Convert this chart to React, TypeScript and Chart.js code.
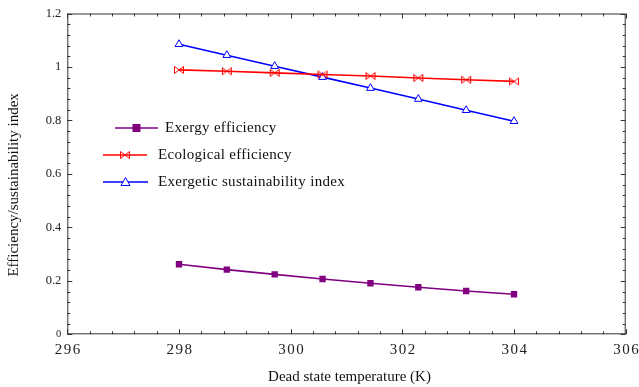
import React, { useEffect, useRef } from "react";
import { Chart, registerables } from "chart.js";

Chart.register(...registerables);

// Dead state temperature (K)
const temperatures = [298, 298.857, 299.714, 300.571, 301.429, 302.286, 303.143, 304];

// Series
const exergyEfficiency = [0.262, 0.242, 0.224, 0.207, 0.191, 0.176, 0.162, 0.150];
const ecologicalEfficiency = [0.989, 0.984, 0.978, 0.972, 0.966, 0.959, 0.952, 0.946];
const sustainabilityIndex = [1.085, 1.044, 1.003, 0.962, 0.921, 0.880, 0.838, 0.797];

// Axis ticks
const xMajorTicks = [296, 298, 300, 302, 304, 306];
const yMajorTicks = [0, 0.2, 0.4, 0.6, 0.8, 1, 1.2];
const xMinorStep = 0.4;
const yMinorStep = 0.04;

const xTitle = "Dead state temperature (K)";
const yTitle = "Efficiency/sustainability index";

const PURPLE = "#800080";
const RED = "#ff0000";
const BLUE = "#0000ff";
const SERIF = "'Liberation Serif', 'DejaVu Serif', serif";
const FRAME = "#333333";
const TEXT = "#111111";

function makeBowtie(color: string): HTMLCanvasElement {
  const c = document.createElement("canvas");
  c.width = 12;
  c.height = 10;
  const g = c.getContext("2d")!;
  g.strokeStyle = color;
  g.lineWidth = 1;
  g.beginPath();
  // left bar + wedge
  g.moveTo(1.5, 1.5);
  g.lineTo(1.5, 8.5);
  g.lineTo(6, 5);
  g.closePath();
  // right bar + wedge
  g.moveTo(10.5, 1.5);
  g.lineTo(10.5, 8.5);
  g.lineTo(6, 5);
  g.closePath();
  g.stroke();
  return c;
}

function drawMarker(ctx: CanvasRenderingContext2D, kind: string, x: number, y: number, bowtie: HTMLCanvasElement) {
  ctx.save();
  if (kind === "square") {
    ctx.fillStyle = PURPLE;
    ctx.fillRect(x - 4, y - 4, 8, 8);
  } else if (kind === "bowtie") {
    ctx.drawImage(bowtie, x - 6, y - 5);
  } else {
    ctx.fillStyle = "#ffffff";
    ctx.strokeStyle = BLUE;
    ctx.lineWidth = 1;
    ctx.beginPath();
    ctx.moveTo(x, y - 4.5);
    ctx.lineTo(x + 4.5, y + 3.5);
    ctx.lineTo(x - 4.5, y + 3.5);
    ctx.closePath();
    ctx.fill();
    ctx.stroke();
  }
  ctx.restore();
}

export default function App() {
  const canvasRef = useRef<HTMLCanvasElement | null>(null);

  useEffect(() => {
    const canvas = canvasRef.current;
    if (!canvas) return;
    const bowtie = makeBowtie(RED);

    const legendItems = [
      { label: "Exergy efficiency", color: PURPLE, kind: "square", x0: 115, x1: 158, y: 128, tx: 165 },
      { label: "Ecological efficiency", color: RED, kind: "bowtie", x0: 103, x1: 147, y: 155, tx: 158 },
      { label: "Exergetic sustainability index", color: BLUE, kind: "triangle", x0: 103, x1: 148, y: 182, tx: 158 },
    ];

    const framePlugin = {
      id: "frameTicks",
      afterDraw(chart: any) {
        const ctx: CanvasRenderingContext2D = chart.ctx;
        const { left, right, top, bottom } = chart.chartArea;
        const xs = chart.scales.x;
        const ys = chart.scales.y;
        ctx.save();
        ctx.strokeStyle = FRAME;
        ctx.lineWidth = 1;
        ctx.strokeRect(left + 0.5, top + 0.5, right - left - 1, bottom - top - 1);

        ctx.beginPath();
        // x ticks (bottom & top, inward)
        const xMin = xMajorTicks[0];
        const xMax = xMajorTicks[xMajorTicks.length - 1];
        const nx = Math.round((xMax - xMin) / xMinorStep);
        for (let i = 0; i <= nx; i++) {
          const v = xMin + i * xMinorStep;
          const major = xMajorTicks.some((t) => Math.abs(t - v) < 1e-6);
          const len = major ? 5 : 3;
          const px = Math.round(xs.getPixelForValue(v)) + 0.5;
          ctx.moveTo(px, bottom);
          ctx.lineTo(px, bottom - len);
          ctx.moveTo(px, top);
          ctx.lineTo(px, top + len);
        }
        // y ticks (left & right, inward)
        const yMin = yMajorTicks[0];
        const yMax = yMajorTicks[yMajorTicks.length - 1];
        const ny = Math.round((yMax - yMin) / yMinorStep);
        for (let i = 0; i <= ny; i++) {
          const v = yMin + i * yMinorStep;
          const major = yMajorTicks.some((t) => Math.abs(t - v) < 1e-6);
          const len = major ? 5 : 3;
          const py = Math.round(ys.getPixelForValue(v)) + 0.5;
          ctx.moveTo(left, py);
          ctx.lineTo(left + len, py);
          ctx.moveTo(right, py);
          ctx.lineTo(right - len, py);
        }
        ctx.stroke();

        // x tick labels (slightly spaced digits)
        ctx.fillStyle = "#222222";
        ctx.font = `15px ${SERIF}`;
        (ctx as any).letterSpacing = "1.5px";
        ctx.textAlign = "center";
        ctx.textBaseline = "middle";
        for (const t of xMajorTicks) {
          ctx.fillText(String(t), xs.getPixelForValue(t) + 1, bottom + 16);
        }

        // axis titles
        (ctx as any).letterSpacing = "0px";
        ctx.fillStyle = TEXT;
        ctx.font = `15px ${SERIF}`;
        ctx.fillText(xTitle, (left + right) / 2 + 3, 377);
        ctx.save();
        ctx.translate(14, (top + bottom) / 2 + 11);
        ctx.rotate(-Math.PI / 2);
        ctx.fillText(yTitle, 0, 0);
        ctx.restore();

        // legend
        (ctx as any).letterSpacing = "0.3px";
        ctx.textAlign = "left";
        ctx.textBaseline = "middle";
        ctx.font = `15px ${SERIF}`;
        for (const it of legendItems) {
          ctx.strokeStyle = it.color;
          ctx.lineWidth = 1.5;
          ctx.beginPath();
          ctx.moveTo(it.x0, it.y);
          ctx.lineTo(it.x1, it.y);
          ctx.stroke();
          drawMarker(ctx, it.kind, (it.x0 + it.x1) / 2, it.y, bowtie);
          ctx.fillStyle = TEXT;
          ctx.fillText(it.label, it.tx, it.y);
        }
        (ctx as any).letterSpacing = "0px";
        ctx.restore();
      },
    };

    const chart = new Chart(canvas, {
      type: "line",
      data: {
        datasets: [
          {
            label: "Exergy efficiency",
            data: temperatures.map((t, i) => ({ x: t, y: exergyEfficiency[i] })),
            borderColor: PURPLE,
            backgroundColor: PURPLE,
            borderWidth: 1.6,
            pointStyle: "rect",
            pointRadius: 4.5,
            pointBorderWidth: 0,
          },
          {
            label: "Ecological efficiency",
            data: temperatures.map((t, i) => ({ x: t, y: ecologicalEfficiency[i] })),
            borderColor: RED,
            backgroundColor: RED,
            borderWidth: 1.6,
            pointStyle: bowtie,
            pointRadius: 5,
          },
          {
            label: "Exergetic sustainability index",
            data: temperatures.map((t, i) => ({ x: t, y: sustainabilityIndex[i] })),
            borderColor: BLUE,
            backgroundColor: "#ffffff",
            borderWidth: 1.6,
            pointStyle: "triangle",
            pointRadius: 4.5,
            pointBorderWidth: 1,
          },
        ],
      },
      options: {
        responsive: false,
        animation: false,
        events: [],
        layout: { padding: { left: 0, top: 12.7, right: 13.3, bottom: 0 } },
        plugins: {
          legend: { display: false },
          tooltip: { enabled: false },
        },
        scales: {
          x: {
            type: "linear",
            min: xMajorTicks[0],
            max: xMajorTicks[xMajorTicks.length - 1],
            grid: { display: false, drawTicks: false },
            border: { display: false },
            ticks: { display: false, stepSize: 2 },
            title: { display: false },
            afterFit: (s: any) => {
              s.height = 52.7;
            },
          },
          y: {
            type: "linear",
            min: yMajorTicks[0],
            max: yMajorTicks[yMajorTicks.length - 1],
            grid: { display: false, drawTicks: false },
            border: { display: false },
            ticks: {
              stepSize: 0.2,
              padding: 6,
              color: "#222222",
              callback: (v: any) => String(Number(Number(v).toFixed(2))),
              font: (c: any) => ({ family: SERIF, size: c.tick && c.tick.value === 0 ? 10.5 : 12.5 }),
            },
            title: { display: false },
            afterFit: (s: any) => {
              s.width = 67.3;
            },
          },
        },
      },
      plugins: [framePlugin],
    } as any);

    return () => chart.destroy();
  }, []);

  return (
    <div style={{ position: "absolute", left: 0, top: 0, width: 639, height: 387, background: "#ffffff" }}>
      <canvas ref={canvasRef} width={639} height={387} />
    </div>
  );
}
